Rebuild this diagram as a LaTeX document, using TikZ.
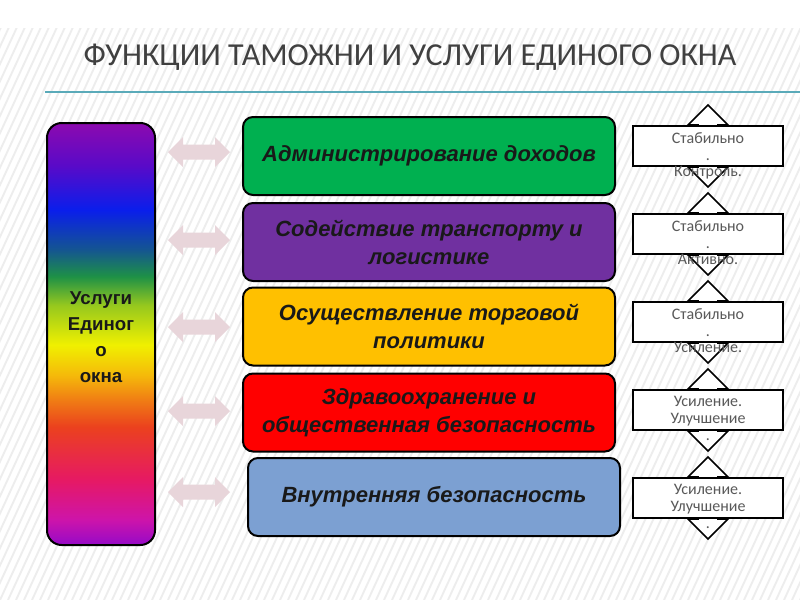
\documentclass[tikz,border=0pt]{standalone}
\usepackage{fontspec}
\setmainfont{Carlito}
\newfontfamily\boxfont{Liberation Sans}
\usetikzlibrary{calc}
\definecolor{c1}{RGB}{140,10,175}
\definecolor{c2}{RGB}{90,10,200}
\definecolor{c3}{RGB}{10,30,235}
\definecolor{c4}{RGB}{20,85,145}
\definecolor{c5}{RGB}{30,145,70}
\definecolor{c6}{RGB}{150,200,30}
\definecolor{c7}{RGB}{240,240,0}
\definecolor{c8}{RGB}{245,185,10}
\definecolor{c9}{RGB}{240,125,20}
\definecolor{c10}{RGB}{235,65,30}
\definecolor{c11}{RGB}{230,25,100}
\definecolor{c12}{RGB}{205,20,170}
\definecolor{c13}{RGB}{150,10,200}
\pgfdeclareverticalshading{rainbow}{100bp}{color(0bp)=(c13); color(25bp)=(c13); color(28bp)=(c12); color(32.7bp)=(c11); color(39bp)=(c10); color(42.2bp)=(c9); color(45.1bp)=(c8); color(48.7bp)=(c7); color(53.4bp)=(c6); color(56.8bp)=(c5); color(60bp)=(c4); color(64.7bp)=(c3); color(70bp)=(c2); color(75bp)=(c1); color(100bp)=(c1)}
\definecolor{titlegray}{RGB}{64,64,64}
\definecolor{rulecol}{RGB}{90,170,185}
\definecolor{stripecol}{RGB}{237,237,237}
\definecolor{arrowpink}{RGB}{232,213,218}
\definecolor{boxgreen}{RGB}{0,176,80}
\definecolor{boxpurple}{RGB}{112,48,160}
\definecolor{boxamber}{RGB}{255,192,0}
\definecolor{boxred}{RGB}{255,0,0}
\definecolor{boxblue}{RGB}{124,160,210}
\definecolor{smalltext}{RGB}{89,89,89}
\tikzset{
  stripe/.style={stripecol, line width=1.4pt},
  funcbox/.style={draw=black, line width=1.5pt, rounded corners=7.5pt, minimum width=279pt, minimum height=58.5pt, align=center, font=\boxfont\bfseries\itshape\fontsize{16.5}{21}\selectfont, text=black!90},
  statebox/.style={draw=black, fill=white, line width=1.2pt, minimum width=112.5pt, minimum height=30pt},
  statetext/.style={align=center, inner sep=0pt, font=\fontsize{12}{12.6}\selectfont, text=smalltext},
  vdarrow/.style={draw=black, fill=white, line width=1.2pt, line join=miter},
  hdarrow/.style={fill=arrowpink},
}
\begin{document}
\begin{tikzpicture}[x=0.75pt,y=-0.75pt]
\useasboundingbox (0,0) rectangle (800,600);
\fill[white] (0,0) rectangle (800,600);
\begin{scope}
  \clip (0,28) rectangle (800,600);
  \foreach \k in {-35,...,100} {
    \draw[stripe] (\k*8,600) -- ++(266,-575);
  }
\end{scope}
% title
\node[anchor=base, inner sep=0pt, text=titlegray, font=\fontsize{24}{28}\selectfont] (title) at (410,65) {ФУНКЦИИ ТАМОЖНИ И УСЛУГИ ЕДИНОГО ОКНА};
\coordinate (ruleL) at (45,92);
\coordinate (ruleR) at (800,92);
\draw[rulecol, line width=1.3pt] (ruleL) -- (ruleR);
% left rainbow bar
\node[draw=black, line width=1.5pt, rounded corners=11pt, shading=rainbow, minimum width=81pt, minimum height=316.5pt] (bar) at (101,334) {};
\node[align=center, font=\boxfont\bfseries\fontsize{14}{19.5}\selectfont, text=black!90] (bartext) at (101,337) {Услуги\\Единог\\о\\окна};
% horizontal double arrows
\foreach \cy/\nm in {152/a1,240/a2,327/a3,411/a4,492/a5} {
  \coordinate (\nm) at (199,\cy);
  \fill[hdarrow] ($(\nm)+(-31,0)$) -- ++(15,-15) -- ++(0,7.5) -- ++(32,0) -- ++(0,-7.5) -- ++(15,15) -- ++(-15,15) -- ++(0,-7.5) -- ++(-32,0) -- ++(0,7.5) -- cycle;
}
% function boxes
\node[funcbox, fill=boxgreen] (f1) at (429,156) {Администрирование доходов};
\node[funcbox, fill=boxpurple] (f2) at (429,242) {Содействие транспорту и\\логистике};
\node[funcbox, fill=boxamber] (f3) at (429,326.5) {Осуществление торговой\\политики};
\node[funcbox, fill=boxred] (f4) at (429,412.5) {Здравоохранение и\\общественная безопасность};
\node[funcbox, fill=boxblue] (f5) at (434,497) {Внутренняя безопасность};
% right state elements
\foreach \cy/\nm/\txt in {146/s1/{Стабильно\\.\\Контроль.},234/s2/{Стабильно\\.\\Активно.},322/s3/{Стабильно\\.\\Усиление.},410/s4/{Усиление.\\Улучшение\\.},498/s5/{Усиление.\\Улучшение\\.}} {
  \coordinate (\nm c) at (708,\cy);
  \draw[vdarrow] ($(\nm c)+(0,-41)$) -- ++(20,20) -- ++(-10,0) -- ++(0,42) -- ++(10,0) -- ++(-20,20) -- ++(-20,-20) -- ++(10,0) -- ++(0,-42) -- ++(-10,0) -- cycle;
  \node[statebox] (\nm) at (\nm c) {};
  \node[statetext, anchor=north] (\nm t) at ($(\nm.north)+(0,7)$) {\txt};
}
\end{tikzpicture}
\end{document}
